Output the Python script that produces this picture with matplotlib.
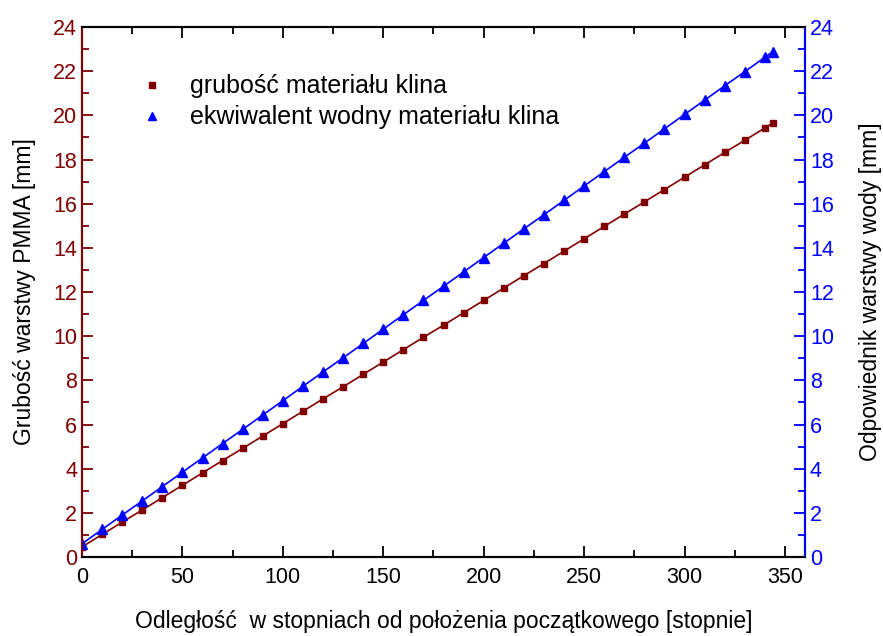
import matplotlib
matplotlib.use("Agg")
import matplotlib.pyplot as plt
from matplotlib.ticker import MultipleLocator

plt.rcParams['font.family'] = ['Liberation Sans', 'DejaVu Sans']

# kat obrotu klina [stopnie]
angle = [0, 10, 20, 30, 40, 50, 60, 70, 80, 90, 100, 110, 120, 130, 140, 150,
         160, 170, 180, 190, 200, 210, 220, 230, 240, 250, 260, 270, 280, 290,
         300, 310, 320, 330, 340, 344]

# grubosc materialu klina [mm]
thickness = [0.46, 1.02, 1.58, 2.13, 2.69, 3.25, 3.81, 4.37, 4.92, 5.48, 6.04,
             6.60, 7.16, 7.71, 8.27, 8.83, 9.39, 9.95, 10.50, 11.06, 11.62,
             12.18, 12.74, 13.29, 13.85, 14.41, 14.97, 15.53, 16.08, 16.64,
             17.20, 17.76, 18.32, 18.87, 19.43, 19.66]

# ekwiwalent wodny [mm]
water_eq = [0.60, 1.25, 1.90, 2.54, 3.19, 3.84, 4.49, 5.14, 5.78, 6.43, 7.08,
            7.73, 8.38, 9.02, 9.67, 10.32, 10.97, 11.62, 12.26, 12.91, 13.56,
            14.21, 14.86, 15.50, 16.15, 16.80, 17.45, 18.10, 18.74, 19.39,
            20.04, 20.69, 21.34, 21.98, 22.63, 22.89]

RED = '#800000'
BLUE = '#0000ff'
TICK_FS = 15.5
LABEL_FS = 16.5

fig = plt.figure(figsize=(8.83, 6.36), dpi=100)
ax = fig.add_axes([0.0929, 0.1242, 0.8188, 0.8333])
ax2 = ax.twinx()

l1, = ax.plot(angle, thickness, color=RED, lw=1.2, marker='s', ms=5,
              label='grubość materiału klina')
l2, = ax2.plot(angle, water_eq, color=BLUE, lw=1.2, marker='^', ms=6.5,
               label='ekwiwalent wodny materiału klina')

ax.set_xlim(0, 360)
ax.set_ylim(0, 24)
ax2.set_ylim(0, 24)

ax.xaxis.set_major_locator(MultipleLocator(50))
ax.xaxis.set_minor_locator(MultipleLocator(25))
ax.yaxis.set_major_locator(MultipleLocator(2))
ax.yaxis.set_minor_locator(MultipleLocator(1))
ax2.yaxis.set_major_locator(MultipleLocator(2))
ax2.yaxis.set_minor_locator(MultipleLocator(1))

ax.tick_params(axis='x', which='both', direction='in', top=True,
               labelsize=TICK_FS, pad=7, width=1.3)
ax.tick_params(axis='x', which='major', length=8)
ax.tick_params(axis='x', which='minor', length=5)
ax.tick_params(axis='y', which='both', direction='in', colors=RED,
               labelsize=TICK_FS, width=1.3)
ax.tick_params(axis='y', which='major', length=8)
ax.tick_params(axis='y', which='minor', length=5)
ax2.tick_params(axis='y', which='both', direction='in', colors=BLUE,
                labelsize=TICK_FS, width=1.3)
ax2.tick_params(axis='y', which='major', length=8)
ax2.tick_params(axis='y', which='minor', length=5)

for a in (ax, ax2):
    for s in a.spines.values():
        s.set_linewidth(1.5)
ax2.spines['left'].set_color(RED)
ax2.spines['right'].set_color(BLUE)
ax.spines['left'].set_color(RED)

ax.set_xlabel('Odległość  w stopniach od położenia początkowego [stopnie]',
              fontsize=LABEL_FS, labelpad=16)
ax.set_ylabel('Grubość warstwy PMMA [mm]', fontsize=LABEL_FS, labelpad=12)
ax2.set_ylabel('Odpowiednik warstwy wody [mm]', fontsize=LABEL_FS,
               labelpad=18, rotation=90)

leg = ax.legend(handles=[l1, l2], loc='upper left',
                bbox_to_anchor=(0.066, 0.953), frameon=False, fontsize=18,
                handlelength=0, handletextpad=1.5, markerscale=0.8,
                labelspacing=0.28)

fig.savefig('out.png', dpi=100)
